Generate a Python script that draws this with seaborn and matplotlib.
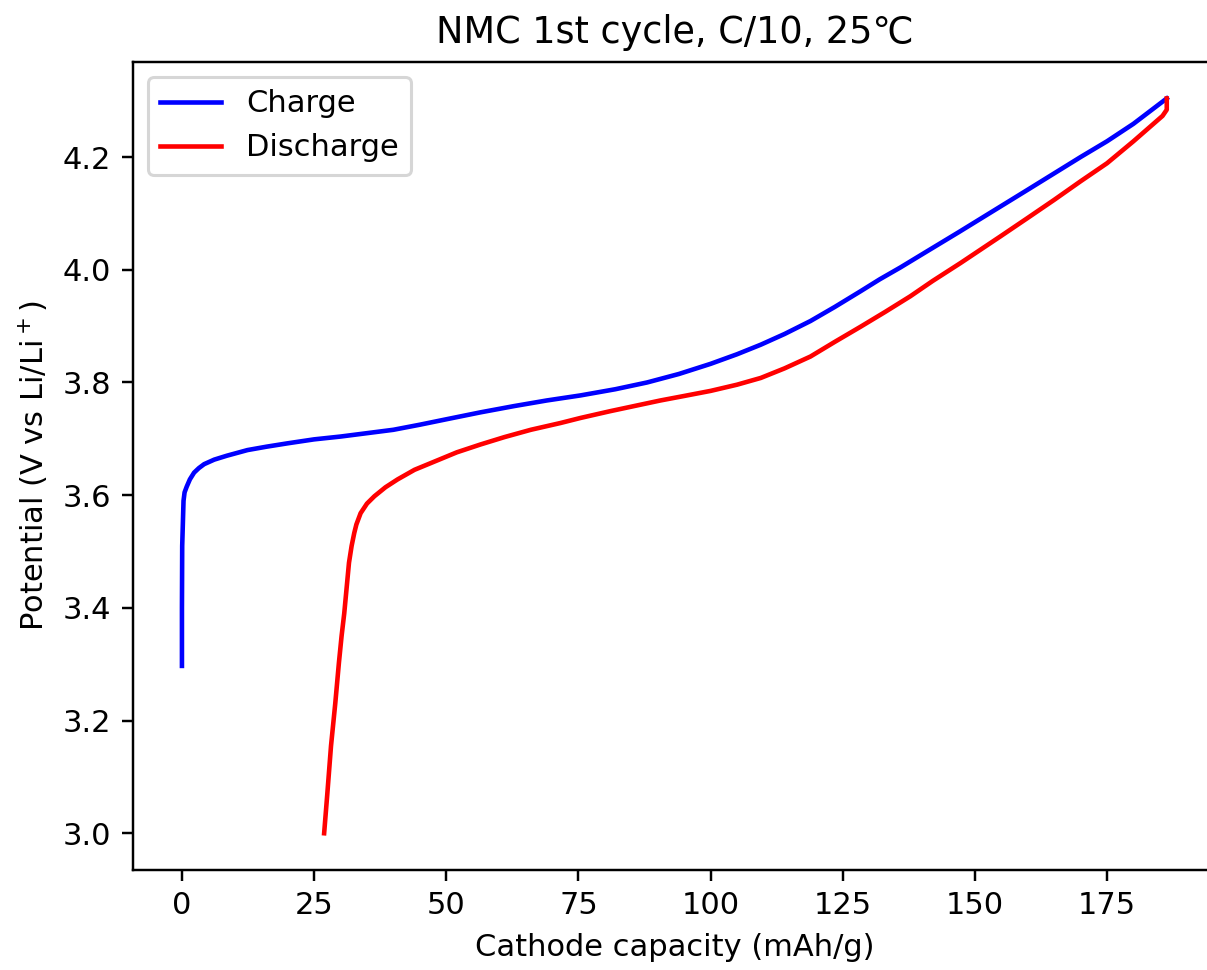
import matplotlib
matplotlib.use("Agg")
import matplotlib.pyplot as plt
from matplotlib.transforms import Bbox
import seaborn as sns
import pandas as pd

# Charge curve (capacity mAh/g, potential V vs Li/Li+)
charge_capacity = [0.0, 0.0, 0.05, 0.3, 0.5, 0.9, 1.5, 2.3, 3.2, 4.2, 6.1, 8.5, 12.4,
                   16.0, 20.0, 25.0, 30.0, 35.0, 40.0, 45.0, 50.2, 56.5, 62.8, 69.0,
                   75.4, 82.0, 88.0, 94.0, 100.0, 105.0, 109.5, 114.0, 118.9, 123.5,
                   128.4, 132.0, 135.9, 141.0, 147.0, 154.8, 160.0, 165.0, 170.0,
                   175.0, 180.0, 186.3]
charge_potential = [3.297, 3.40, 3.51, 3.59, 3.605, 3.615, 3.628, 3.640, 3.648, 3.655,
                    3.663, 3.670, 3.680, 3.686, 3.692, 3.699, 3.704, 3.710, 3.716,
                    3.725, 3.735, 3.747, 3.758, 3.768, 3.777, 3.788, 3.800, 3.815,
                    3.833, 3.850, 3.867, 3.886, 3.909, 3.934, 3.962, 3.983, 4.004,
                    4.033, 4.067, 4.112, 4.142, 4.171, 4.200, 4.228, 4.259, 4.304]

# Discharge curve
discharge_capacity = [186.3, 186.3, 185.5, 180.0, 175.0, 170.0, 165.0, 160.0, 154.8,
                      147.3, 142.0, 137.8, 133.0, 128.4, 123.5, 118.9, 114.0, 109.5,
                      105.0, 100.0, 95.0, 90.5, 85.0, 81.0, 75.4, 71.6, 66.0, 61.0,
                      56.5, 52.0, 47.1, 44.0, 40.8, 38.5, 36.4, 35.0, 33.8, 33.0, 32.6,
                      32.1, 31.6, 31.2, 30.7, 30.2, 29.7, 29.0, 28.2, 27.5, 26.9]
discharge_potential = [4.304, 4.284, 4.273, 4.228, 4.189, 4.157, 4.124, 4.092, 4.059,
                       4.012, 3.980, 3.953, 3.925, 3.899, 3.872, 3.846, 3.825, 3.808,
                       3.796, 3.785, 3.776, 3.768, 3.757, 3.749, 3.737, 3.728, 3.716,
                       3.703, 3.690, 3.676, 3.657, 3.645, 3.628, 3.614, 3.598, 3.585,
                       3.568, 3.548, 3.533, 3.510, 3.480, 3.44, 3.39, 3.35, 3.303,
                       3.23, 3.155, 3.07, 3.0]

series_labels = ["Charge", "Discharge"]
series_colors = ["blue", "red"]

title = "NMC 1st cycle, C/10, 25\u2103"
xlabel = "Cathode capacity (mAh/g)"
ylabel = "Potential (V vs Li/Li$^+$)"

df_c = pd.DataFrame({"cap": charge_capacity, "v": charge_potential})
df_d = pd.DataFrame({"cap": discharge_capacity, "v": discharge_potential})

DPI = 220
W, H = 1207, 970
fig = plt.figure(figsize=(W / DPI, H / DPI), dpi=DPI)
ax = fig.add_axes([132.7 / W, (H - 870) / H, (1216 - 132.7) / W, (870 - 61.7) / H])

sns.lineplot(data=df_c, x="cap", y="v", sort=False, estimator=None, ax=ax,
             color=series_colors[0], label=series_labels[0])
sns.lineplot(data=df_d, x="cap", y="v", sort=False, estimator=None, ax=ax,
             color=series_colors[1], label=series_labels[1])

ax.set_title(title)
ax.set_xlabel(xlabel)
ax.set_ylabel(ylabel)
ax.legend(loc="upper left")

plt.rcParams["savefig.bbox"] = None
fig.savefig("out.png", dpi=DPI,
            bbox_inches=Bbox.from_bounds(0, 0, W / DPI, H / DPI))
